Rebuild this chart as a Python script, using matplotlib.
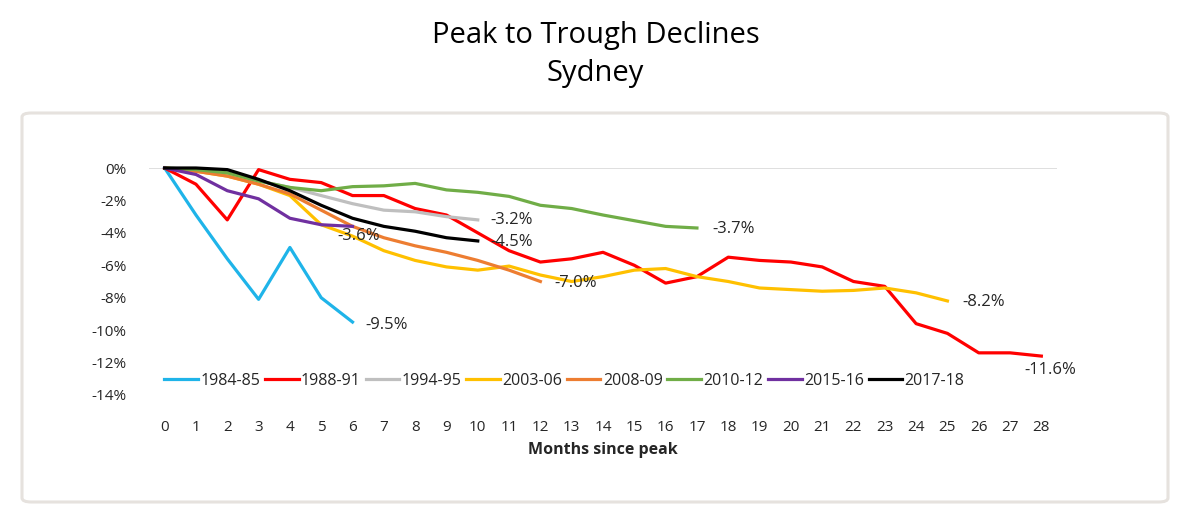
import numpy as np
import matplotlib
matplotlib.use("Agg")
import matplotlib.pyplot as plt
from matplotlib.patches import FancyBboxPatch

# Months since peak
months = list(range(0, 29))

# Cumulative decline (%) by downturn
s_1984 = [0, -2.9, -5.6, -8.1, -4.9, -8.0, -9.5]
s_1988 = [0, -1.0, -3.2, -0.1, -0.7, -0.9, -1.7, -1.7, -2.5, -2.9, -4.0, -5.1, -5.8,
          -5.6, -5.2, -6.0, -7.1, -6.7, -5.5, -5.7, -5.8, -6.1, -7.0, -7.3, -9.6,
          -10.2, -11.4, -11.4, -11.6]
s_1994 = [0, -0.1, -0.3, -0.8, -1.2, -1.7, -2.2, -2.6, -2.7, -3.0, -3.2]
s_2003 = [0, -0.2, -0.5, -1.0, -1.7, -3.5, -4.2, -5.1, -5.7, -6.1, -6.3, -6.05, -6.6,
          -7.0, -6.7, -6.3, -6.2, -6.7, -7.0, -7.4, -7.5, -7.6, -7.55, -7.4, -7.7, -8.2]
s_2008 = [0, -0.2, -0.5, -1.0, -1.6, -2.6, -3.6, -4.3, -4.8, -5.2, -5.7, -6.3, -7.0]
s_2010 = [0, -0.1, -0.3, -0.8, -1.2, -1.4, -1.15, -1.1, -0.95, -1.35, -1.5, -1.75,
          -2.3, -2.5, -2.9, -3.25, -3.6, -3.7]
s_2015 = [0, -0.4, -1.4, -1.9, -3.1, -3.5, -3.6]
s_2017 = [0, 0, -0.1, -0.7, -1.4, -2.3, -3.1, -3.6, -3.9, -4.3, -4.5]

series = [
    ("1984-85", s_1984, "#1FB4E9"),
    ("1988-91", s_1988, "#FF0000"),
    ("1994-95", s_1994, "#BFBFBF"),
    ("2003-06", s_2003, "#FFC000"),
    ("2008-09", s_2008, "#ED7D31"),
    ("2010-12", s_2010, "#70AD47"),
    ("2015-16", s_2015, "#7030A0"),
    ("2017-18", s_2017, "#000000"),
]

# end-of-line labels and their offsets (points)
end_labels = {
    "1984-85": ("-9.5%", (9, -2), "left"),
    "1988-91": ("-11.6%", (-12, -10), "left"),
    "1994-95": ("-3.2%", (9, 0), "left"),
    "2003-06": ("-8.2%", (11, -1), "left"),
    "2008-09": ("-7.0%", (10, -1), "left"),
    "2010-12": ("-3.7%", (11, -1), "left"),
    "2015-16": ("-3.6%", (-11, -7), "left"),
    "2017-18": ("-4.5%", (9, -1), "left"),
}

plt.rcParams['font.family'] = ['Open Sans', 'DejaVu Sans']

fig = plt.figure(figsize=(11.79, 5.12), dpi=100)

# rounded frame around the chart
box = FancyBboxPatch((22 / 1179, 1 - 502 / 512), (1168 - 22) / 1179, (502 - 113) / 512,
                     boxstyle="round,pad=0,rounding_size=0.008", transform=fig.transFigure,
                     facecolor="white", edgecolor="#E6E2DE", linewidth=2.2, zorder=-5)
fig.patches.append(box)

fig.text(0.505, 1 - 36 / 512, "Peak to Trough Declines", ha="center", va="center", fontsize=21)
fig.text(0.505, 1 - 74 / 512, "Sydney", ha="center", va="center", fontsize=21)

ax = fig.add_axes([149 / 1179, 1 - 395 / 512, (1057 - 149) / 1179, (395 - 168) / 512])
ax.set_zorder(2)
ax.patch.set_alpha(0)

for name, vals, col in series:
    x = months[:len(vals)]
    ax.plot(x, vals, color=col, linewidth=2.3, label=name, clip_on=False, zorder=3)
    txt, off, ha = end_labels[name]
    ax.annotate(txt, (x[-1], vals[-1]), xytext=off, textcoords="offset points",
                ha=ha, va="center", fontsize=12, color="#262626")

ax.set_xlim(-0.5, 28.5)
ax.set_ylim(-14, 0)
ax.set_xticks(months)
ax.set_yticks(np.arange(-14, 1, 2))
ax.set_yticklabels([f"{v}%" for v in range(-14, 1, 2)])
ax.tick_params(length=0, labelsize=11, colors="#262626")
ax.tick_params(axis="x", pad=18)
ax.tick_params(axis="y", pad=16)
for sp in ax.spines.values():
    sp.set_visible(False)
ax.axhline(0, color="#D9D9D9", linewidth=1.2, zorder=1)
ax.set_xlabel("Months since peak", fontsize=11.5, fontweight="bold", labelpad=5, color="#262626")

leg = ax.legend(loc="lower left", bbox_to_anchor=(0.01, 0.0), ncol=8, frameon=False,
                fontsize=11.5, handlelength=2.1, handletextpad=0.15, columnspacing=0.3,
                borderaxespad=0)
for t in leg.get_texts():
    t.set_color("#262626")

fig.savefig("out.png", dpi=100)
